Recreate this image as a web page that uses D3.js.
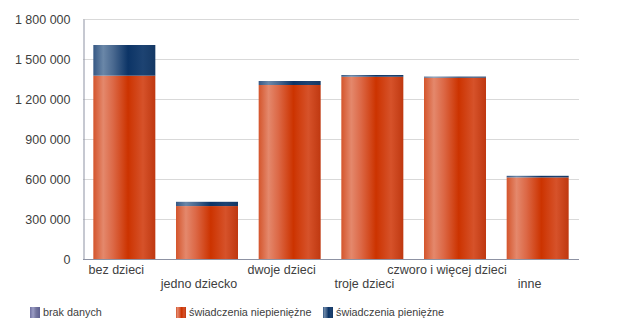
<!DOCTYPE html>
<html><head><meta charset="utf-8">
<script src="https://cdn.jsdelivr.net/npm/d3@7"></script>
<style>body{margin:0;background:#fff;}svg{display:block;font-family:"Liberation Sans",Arial,sans-serif;}</style>
</head><body>
<svg id="c" width="619" height="331"></svg>
<script>
const categories = ["bez dzieci","jedno dziecko","dwoje dzieci","troje dzieci","czworo i więcej dzieci","inne"];
const niepieniezne = [1375000, 397000, 1305000, 1367000, 1360000, 612000];
const pieniezne = [230000, 32000, 30000, 13000, 8000, 12000];
const brakDanych = [0, 0, 0, 0, 0, 0];
const yTicks = [0, 300000, 600000, 900000, 1200000, 1500000, 1800000];
const seriesNames = ["brak danych","świadczenia niepieniężne","świadczenia pieniężne"];

const svg = d3.select("#c");
const defs = svg.append("defs");
function grad(id, stops){
  const g = defs.append("linearGradient").attr("id", id).attr("x1","0").attr("x2","1").attr("y1","0").attr("y2","0");
  stops.forEach(s => g.append("stop").attr("offset", s[0]).attr("stop-color", s[1]));
}
grad("gO", [[0,"#d4552c"],[0.16,"#e4886c"],[0.32,"#dc6846"],[0.56,"#cc3300"],[0.8,"#d6522a"],[1,"#bf3810"]]);
grad("gB", [[0,"#365884"],[0.16,"#6a87a8"],[0.32,"#4a6990"],[0.56,"#0c3466"],[0.8,"#1d4372"],[1,"#143864"]]);
grad("gP", [[0,"#6e70a0"],[0.3,"#9a9cc4"],[0.6,"#74769f"],[1,"#5e6090"]]);

const x = d3.scaleBand().domain(categories).range([83, 579]).paddingInner(0.25).paddingOuter(0.125);
const y = d3.scaleLinear().domain([0, 1800000]).range([259, 19]);
const fmt = v => d3.format(",")(v).replace(/,/g, " ");

// gridlines
svg.append("g").selectAll("line").data(yTicks.filter(t => t > 0)).join("line")
  .attr("x1", 83).attr("x2", 579).attr("y1", d => y(d)+0.5).attr("y2", d => y(d)+0.5)
  .attr("stroke", "#d9d9d9").attr("stroke-width", 1);

// y axis
const yAxis = svg.append("g").attr("transform", "translate(83.5,0)")
  .call(d3.axisLeft(y).tickValues(yTicks).tickFormat(fmt).tickSize(0).tickPadding(13));
yAxis.select(".domain").attr("stroke", "#8d92a3");
yAxis.selectAll("text").attr("font-size", "12.5px").attr("fill", "#404040").attr("font-family", "Liberation Sans, Arial, sans-serif");

// bars
const g = svg.append("g");
categories.forEach((c, i) => {
  const x0 = x(c), w = x.bandwidth();
  g.append("rect").attr("x", x0).attr("width", w)
    .attr("y", y(niepieniezne[i])).attr("height", y(0) - y(niepieniezne[i])).attr("fill", "url(#gO)");
  const top = niepieniezne[i] + pieniezne[i];
  g.append("rect").attr("x", x0).attr("width", w)
    .attr("y", y(top)).attr("height", Math.max(1, y(niepieniezne[i]) - y(top))).attr("fill", "url(#gB)");
  if (brakDanych[i] > 0) {
    g.append("rect").attr("x", x0).attr("width", w)
      .attr("y", y(top + brakDanych[i])).attr("height", y(top) - y(top + brakDanych[i])).attr("fill", "url(#gP)");
  }
});

// x axis line
svg.append("line").attr("x1", 83).attr("x2", 579).attr("y1", 259.5).attr("y2", 259.5).attr("stroke", "#8d92a3");

// x labels (staggered)
svg.append("g").selectAll("text").data(categories).join("text")
  .attr("x", d => x(d) + x.bandwidth()/2 - 8)
  .attr("y", (d, i) => i % 2 === 0 ? 274 : 288)
  .attr("text-anchor", "middle").attr("font-size", "12.5px").attr("fill", "#404040")
  .text(d => d);

// legend
const legendX = [30, 176, 323];
const legendFill = ["url(#gP)", "url(#gO)", "url(#gB)"];
seriesNames.forEach((n, i) => {
  svg.append("rect").attr("x", legendX[i]).attr("y", 307).attr("width", 10).attr("height", 11).attr("fill", legendFill[i]);
  svg.append("text").attr("x", legendX[i] + 13).attr("y", 315.5).attr("font-size", "10.8px").attr("fill", "#404040").text(n);
});
</script>
</body></html>
